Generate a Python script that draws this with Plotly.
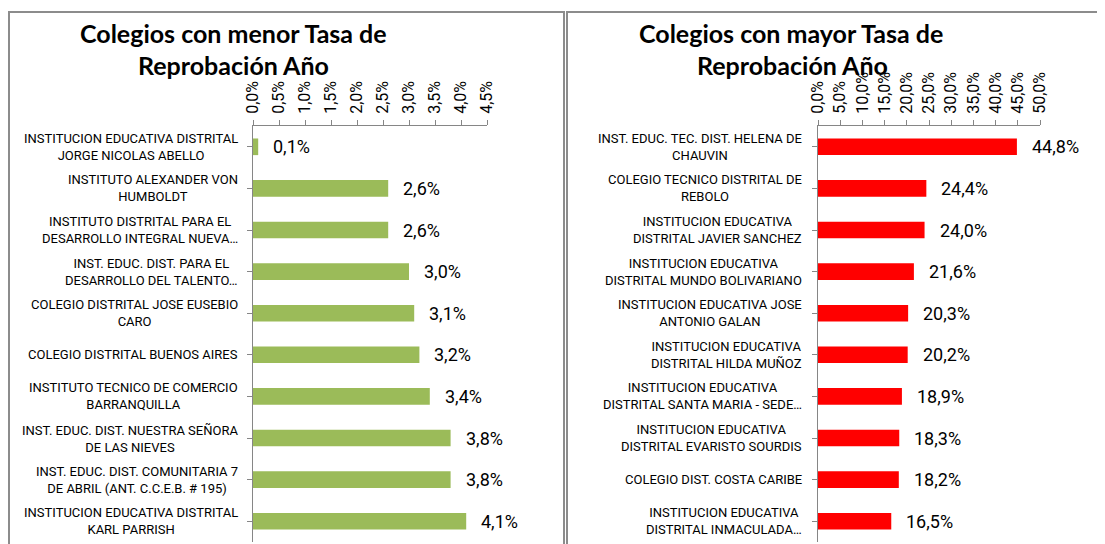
import plotly.graph_objects as go

W, H = 1105, 544
OFF = 8  # page body margin

low_names = [
    "INSTITUCION EDUCATIVA DISTRITAL<br>JORGE NICOLAS ABELLO",
    "INSTITUTO ALEXANDER VON<br>HUMBOLDT",
    "INSTITUTO DISTRITAL PARA EL<br>DESARROLLO INTEGRAL NUEVA…",
    "INST. EDUC. DIST. PARA EL<br>DESARROLLO DEL TALENTO…",
    "COLEGIO DISTRITAL JOSE EUSEBIO<br>CARO",
    "COLEGIO DISTRITAL BUENOS AIRES",
    "INSTITUTO TECNICO DE COMERCIO<br>BARRANQUILLA",
    "INST. EDUC. DIST. NUESTRA SEÑORA<br>DE LAS NIEVES",
    "INST. EDUC. DIST. COMUNITARIA 7<br>DE ABRIL (ANT. C.C.E.B. # 195)",
    "INSTITUCION EDUCATIVA DISTRITAL<br>KARL PARRISH",
]
low_values = [0.1, 2.6, 2.6, 3.0, 3.1, 3.2, 3.4, 3.8, 3.8, 4.1]

high_names = [
    "INST. EDUC. TEC. DIST. HELENA DE<br>CHAUVIN",
    "COLEGIO TECNICO DISTRITAL DE<br>REBOLO",
    "INSTITUCION EDUCATIVA<br>DISTRITAL JAVIER SANCHEZ",
    "INSTITUCION EDUCATIVA<br>DISTRITAL MUNDO BOLIVARIANO",
    "INSTITUCION EDUCATIVA JOSE<br>ANTONIO GALAN",
    "INSTITUCION EDUCATIVA<br>DISTRITAL HILDA MUÑOZ",
    "INSTITUCION EDUCATIVA<br>DISTRITAL SANTA MARIA - SEDE…",
    "INSTITUCION EDUCATIVA<br>DISTRITAL EVARISTO SOURDIS",
    "COLEGIO DIST. COSTA CARIBE",
    "INSTITUCION EDUCATIVA<br>DISTRITAL INMACULADA…",
]
high_values = [44.8, 24.4, 24.0, 21.6, 20.3, 20.2, 18.9, 18.3, 18.2, 16.5]

titles = ["Colegios con menor Tasa de", "Reprobación Año",
          "Colegios con mayor Tasa de", "Reprobación Año"]

low_range = [0, 4.5]
high_range = [0, 50]
low_dtick = 0.5
high_dtick = 5

GREEN = "#9BBB59"
RED = "#FF0000"
AXIS = "#868686"
FONT = "Roboto"
TFONT = "Lato"

def px_x(p):
    return (p - OFF) / W

def px_y(p):
    return 1 - (p - OFF) / H

fig = go.Figure()
cats_low = list(range(len(low_names)))
cats_high = list(range(len(high_names)))

fig.add_trace(go.Bar(x=low_values, y=cats_low, orientation="h", marker_color=GREEN,
                     xaxis="x", yaxis="y", width=0.4, showlegend=False, hoverinfo="skip"))
fig.add_trace(go.Bar(x=high_values, y=cats_high, orientation="h", marker_color=RED,
                     xaxis="x2", yaxis="y2", width=0.4, showlegend=False, hoverinfo="skip"))

ydom = [px_y(542), px_y(126)]
xcommon = dict(side="top", showgrid=False, zeroline=False, showline=True, linecolor=AXIS,
               linewidth=1, ticks="outside", ticklen=5, tickcolor=AXIS, tickangle=-90,
               ticksuffix="%", tickformat=".1f", ticklabelstandoff=3, automargin=False,
               tickfont=dict(family=FONT, size=16, color="#000"))
ycommon = dict(showgrid=False, zeroline=False, showline=True, linecolor=AXIS, linewidth=1,
               ticks="outside", ticklen=5, tickcolor=AXIS, showticklabels=False, automargin=False,
               range=[9.5, -0.5], tickmode="array", tickson="boundaries")

fig.update_layout(
    template="none",
    width=W, height=H, margin=dict(l=0, r=0, t=0, b=0, autoexpand=False),
    paper_bgcolor="white", plot_bgcolor="white", separators=",.",
    xaxis=dict(domain=[px_x(253), px_x(487)], range=low_range, dtick=low_dtick, anchor="y", **xcommon),
    yaxis=dict(domain=ydom, anchor="x", tickvals=cats_low, **ycommon),
    xaxis2=dict(domain=[px_x(818), px_x(1040)], range=high_range, dtick=high_dtick, anchor="y2", **xcommon),
    yaxis2=dict(domain=ydom, anchor="x2", tickvals=cats_high, **ycommon),
    bargap=0.6,
)

annotations = []
def fmt(v):
    return f"{v:.1f}%".replace(".", ",")

for names, vals, yref, xref, lab_x in [(low_names, low_values, "y", "x", 240),
                                        (high_names, high_values, "y2", "x2", 804)]:
    for i, (n, v) in enumerate(zip(names, vals)):
        annotations.append(dict(x=px_x(lab_x), xref="paper", y=i, yref=yref, text=n,
                                xanchor="right", yanchor="middle", align="center", showarrow=False,
                                font=dict(family=FONT, size=13, color="#000")))
        annotations.append(dict(x=v, xref=xref, y=i, yref=yref, text=fmt(v), xanchor="left",
                                xshift=13, yanchor="middle", showarrow=False,
                                font=dict(family=FONT, size=18, color="#000")))

for t, cx, cy in [(titles[0], 233, 33), (titles[1], 233, 65), (titles[2], 791, 33), (titles[3], 792, 65)]:
    annotations.append(dict(x=px_x(cx), xref="paper", y=px_y(cy), yref="paper", text=f"<b>{t}</b>",
                            xanchor="center", yanchor="middle", showarrow=False,
                            font=dict(family=TFONT, size=25, color="#000")))

fig.update_layout(annotations=annotations)

shapes = [
    dict(type="rect", xref="paper", yref="paper", x0=px_x(9), x1=px_x(564), y0=px_y(570), y1=px_y(12),
         line=dict(color="#8c8c8c", width=2), fillcolor="rgba(0,0,0,0)", layer="below"),
    dict(type="rect", xref="paper", yref="paper", x0=px_x(567), x1=px_x(1130), y0=px_y(570), y1=px_y(12),
         line=dict(color="#8c8c8c", width=2), fillcolor="rgba(0,0,0,0)", layer="below"),
]
fig.update_layout(shapes=shapes)

fig.write_html("out.html")
